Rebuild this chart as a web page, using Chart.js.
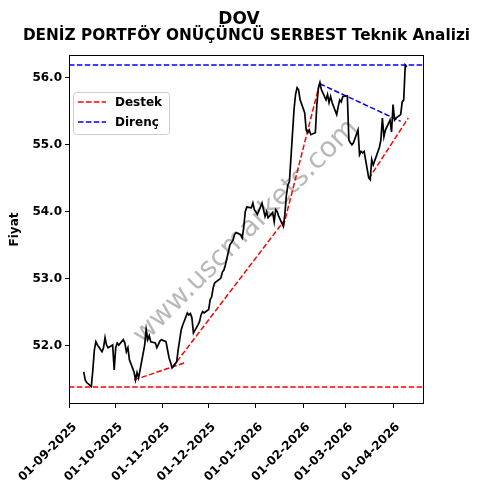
<!DOCTYPE html>
<html>
<head>
<meta charset="utf-8">
<script src="https://cdn.jsdelivr.net/npm/chart.js@4.4.1/dist/chart.umd.min.js"></script>
<style>
  html, body { margin: 0; padding: 0; background: #fff; }
</style>
</head>
<body>
<canvas id="priceChart" width="478" height="489"></canvas>
<script>
// Price data (daily fund price)
const priceDates = [
  '2025-09-10','2025-09-11','2025-09-12','2025-09-15','2025-09-16','2025-09-17','2025-09-18','2025-09-19',
  '2025-09-22','2025-09-23','2025-09-24','2025-09-25','2025-09-26','2025-09-29','2025-09-30',
  '2025-10-01','2025-10-02','2025-10-03','2025-10-06','2025-10-07','2025-10-08','2025-10-09','2025-10-10',
  '2025-10-13','2025-10-14','2025-10-15','2025-10-16','2025-10-17','2025-10-20','2025-10-21','2025-10-22',
  '2025-10-23','2025-10-24','2025-10-27','2025-10-28','2025-10-30','2025-10-31',
  '2025-11-03','2025-11-04','2025-11-05','2025-11-06','2025-11-07','2025-11-10','2025-11-11','2025-11-12',
  '2025-11-13','2025-11-14','2025-11-17','2025-11-18','2025-11-19','2025-11-20','2025-11-21','2025-11-24',
  '2025-11-25','2025-11-26','2025-11-27','2025-11-28',
  '2025-12-01','2025-12-02','2025-12-03','2025-12-04','2025-12-05','2025-12-08','2025-12-09','2025-12-10',
  '2025-12-11','2025-12-12','2025-12-15','2025-12-16','2025-12-17','2025-12-18','2025-12-19','2025-12-22',
  '2025-12-23','2025-12-24','2025-12-25','2025-12-26','2025-12-29','2025-12-30','2025-12-31',
  '2026-01-02','2026-01-05','2026-01-06','2026-01-07','2026-01-08','2026-01-09','2026-01-12','2026-01-13',
  '2026-01-14','2026-01-15','2026-01-16','2026-01-19','2026-01-20','2026-01-21','2026-01-22','2026-01-23',
  '2026-01-26','2026-01-27','2026-01-28','2026-01-29','2026-01-30',
  '2026-02-02','2026-02-03','2026-02-04','2026-02-05','2026-02-06','2026-02-09','2026-02-10','2026-02-11',
  '2026-02-12','2026-02-13','2026-02-16','2026-02-17','2026-02-18','2026-02-19','2026-02-20','2026-02-23',
  '2026-02-24','2026-02-25','2026-02-26','2026-02-27',
  '2026-03-02','2026-03-03','2026-03-04','2026-03-05','2026-03-06','2026-03-09','2026-03-10','2026-03-11',
  '2026-03-12','2026-03-13','2026-03-16','2026-03-17','2026-03-18','2026-03-19','2026-03-23','2026-03-24',
  '2026-03-25','2026-03-26','2026-03-27','2026-03-30','2026-03-31',
  '2026-04-01','2026-04-02','2026-04-03','2026-04-06','2026-04-07','2026-04-08','2026-04-09','2026-04-10'
];
const priceValues = [
  51.61, 51.49, 51.45, 51.39, 51.64, 51.94, 52.06, 52.01,
  51.91, 51.97, 52.12, 52.01, 51.97, 52.01, 51.64,
  51.97, 52.04, 52.01, 52.09, 52.04, 51.91, 51.97, 51.79,
  51.61, 51.49, 51.60, 51.52, 51.64, 52.01, 52.24, 52.09,
  52.15, 52.06, 52.04, 51.97, 52.07, 52.09,
  52.06, 51.94, 51.82, 51.75, 51.67, 51.76, 51.94, 52.09,
  52.24, 52.31, 52.49, 52.46, 52.48, 52.42, 52.19, 52.31,
  52.36, 52.46, 52.51, 52.49,
  52.54, 52.69, 52.73, 52.87, 52.94, 52.99, 53.01, 53.10,
  53.13, 53.21, 53.51, 53.54, 53.58, 53.66, 53.69, 53.66,
  53.61, 53.76, 54.00, 54.07, 54.06, 54.13, 54.03,
  53.96, 54.13, 54.03, 53.93, 54.00, 53.91, 53.99, 53.85,
  54.03, 54.00, 53.93, 53.78, 53.96, 54.25, 54.40, 54.45,
  55.52, 55.75, 55.85, 55.82, 55.67,
  55.48, 55.22, 55.18, 55.22, 55.15, 55.18, 55.60, 55.85,
  55.93, 55.82, 55.67, 55.75, 55.63, 55.72, 55.63, 55.45,
  55.57, 55.67, 55.64, 55.72,
  55.73, 55.07, 55.03, 55.00, 55.03, 55.22, 54.85, 54.90,
  54.88, 54.90, 54.51, 54.48, 54.78, 54.70, 54.96, 55.07,
  55.40, 55.12, 55.22, 55.37, 55.19,
  55.60, 55.37, 55.40, 55.45, 55.64, 55.67, 56.19, 56.16
];

// Trend lines: [start date, start value, end date, end value]
const destekLines = [
  ['2025-10-13', 51.49, '2025-11-16', 51.75],
  ['2025-11-07', 51.67, '2026-01-19', 53.85],
  ['2026-01-19', 53.78, '2026-02-12', 55.93],
  ['2026-03-16', 54.49, '2026-04-11', 55.40]
];
const direncLines = [
  ['2026-02-12', 55.91, '2026-04-06', 55.35]
];
const destekLevel = 51.385;
const direncLevel = 56.19;

// Axis ticks
const xTickDates = ['2025-09-01','2025-10-01','2025-11-01','2025-12-01','2026-01-01','2026-02-01','2026-03-01','2026-04-01'];
const yTickValues = [52, 53, 54, 55, 56];
const xStart = '2025-08-31';
const xEnd = '2026-04-21';

const subtitleText = 'DENİZ PORTFÖY ONÜÇÜNCÜ SERBEST Teknik Analizi';

const BASE = Date.UTC(2025, 8, 1);
function dayIndex(s) {
  const [y, m, d] = s.split('-').map(Number);
  return (Date.UTC(y, m - 1, d) - BASE) / 86400000;
}
function tickLabel(s) {
  const [y, m, d] = s.split('-');
  return `${d}-${m}-${y}`;
}

const FONT = '"DejaVu Sans", sans-serif';
const xMin = dayIndex(xStart) + 0.35;
const xMax = dayIndex(xEnd) + 0.3;

const lineStyle = (color) => ({
  borderColor: color,
  borderWidth: 1.5,
  borderDash: [5.5, 2.4],
  pointRadius: 0,
  fill: false,
  tension: 0
});

const datasets = [];
datasets.push({
  label: 'Fiyat',
  data: priceDates.map((d, i) => ({ x: dayIndex(d), y: priceValues[i] })),
  borderColor: '#000',
  borderWidth: 1.7,
  pointRadius: 0,
  fill: false,
  tension: 0
});
destekLines.forEach(l => datasets.push({
  label: 'Destek',
  data: [{ x: dayIndex(l[0]), y: l[1] }, { x: dayIndex(l[2]), y: l[3] }],
  ...lineStyle('#ff0000')
}));
direncLines.forEach(l => datasets.push({
  label: 'Direnç',
  data: [{ x: dayIndex(l[0]), y: l[1] }, { x: dayIndex(l[2]), y: l[3] }],
  ...lineStyle('#0000ff')
}));
datasets.push({
  label: 'Destek',
  data: [{ x: xMin, y: destekLevel }, { x: xMax, y: destekLevel }],
  ...lineStyle('#ff0000')
});
datasets.push({
  label: 'Direnç',
  data: [{ x: xMin, y: direncLevel }, { x: xMax, y: direncLevel }],
  ...lineStyle('#0000ff')
});

// Watermark behind the lines
const watermarkPlugin = {
  id: 'watermark',
  beforeDatasetsDraw(chart) {
    const { ctx, chartArea } = chart;
    ctx.save();
    ctx.translate(chartArea.left + 177, chartArea.top + 177);
    ctx.rotate(-Math.PI / 4);
    ctx.font = `28px ${FONT}`;
    ctx.fillStyle = 'rgba(128,128,128,0.55)';
    ctx.textAlign = 'center';
    ctx.textBaseline = 'middle';
    ctx.fillText('www.uscmarkets.com', 0, 0);
    ctx.restore();
  }
};

// Box around the plot area, the axes title and the legend in the upper left
const framePlugin = {
  id: 'frame',
  afterDatasetsDraw(chart) {
    const { ctx, chartArea } = chart;
    ctx.save();
    ctx.strokeStyle = '#000';
    ctx.lineWidth = 1;
    ctx.strokeRect(Math.round(chartArea.left) + 0.5, Math.round(chartArea.top) + 0.5,
      Math.round(chartArea.width) - 1, Math.round(chartArea.height) - 1);

    // subtitle, centred over the plot area
    ctx.fillStyle = '#000';
    ctx.font = `bold 15.3px ${FONT}`;
    ctx.textAlign = 'center';
    ctx.textBaseline = 'middle';
    ctx.fillText(subtitleText, (chartArea.left + chartArea.right) / 2, chartArea.top - 19);

    // legend
    const lx = chartArea.left + 4, ly = chartArea.top + 37, lw = 96, lh = 42;
    ctx.fillStyle = 'rgba(255,255,255,0.8)';
    ctx.strokeStyle = '#cccccc';
    ctx.beginPath();
    ctx.roundRect(lx + 0.5, ly + 0.5, lw, lh, 3);
    ctx.fill();
    ctx.stroke();
    const items = [['Destek', '#ff0000'], ['Direnç', '#0000ff']];
    items.forEach((it, i) => {
      const y = ly + 10 + i * 20;
      ctx.setLineDash([5.5, 2.4]);
      ctx.strokeStyle = it[1];
      ctx.lineWidth = 1.5;
      ctx.beginPath();
      ctx.moveTo(lx + 5, y);
      ctx.lineTo(lx + 33, y);
      ctx.stroke();
      ctx.setLineDash([]);
      ctx.fillStyle = '#000';
      ctx.font = `bold 12px ${FONT}`;
      ctx.textAlign = 'left';
      ctx.textBaseline = 'middle';
      ctx.fillText(it[0], lx + 42, y + 1);
    });
    ctx.restore();
  }
};

new Chart(document.getElementById('priceChart'), {
  type: 'line',
  data: { datasets },
  options: {
    responsive: false,
    animation: false,
    devicePixelRatio: 1,
    layout: { padding: { left: 0, right: 0, top: 0, bottom: 0 } },
    plugins: {
      legend: { display: false },
      tooltip: { enabled: false },
      title: {
        display: true,
        text: 'DOV',
        color: '#000',
        font: { family: FONT, size: 17, weight: 'bold', lineHeight: 1 },
        padding: { top: 11, bottom: 27 }
      }
    },
    scales: {
      x: {
        type: 'linear',
        min: xMin,
        max: xMax,
        afterBuildTicks: (scale) => {
          scale.ticks = xTickDates.map(d => ({ value: dayIndex(d) }));
        },
        afterFit: (scale) => { scale.height = 85; },
        ticks: {
          autoSkip: false,
          maxRotation: 45,
          minRotation: 45,
          color: '#000',
          padding: 12,
          labelOffset: 5,
          font: { family: FONT, size: 12, weight: 'bold' },
          callback: (v) => {
            const d = xTickDates.find(t => dayIndex(t) === v);
            return d ? tickLabel(d) : '';
          }
        },
        grid: { drawOnChartArea: false, drawTicks: true, tickLength: 4, color: '#000' },
        border: { display: false }
      },
      y: {
        min: 51.13,
        max: 56.34,
        afterBuildTicks: (scale) => {
          scale.ticks = yTickValues.map(v => ({ value: v }));
        },
        afterFit: (scale) => { scale.width = 69; },
        ticks: {
          color: '#000',
          padding: 3,
          font: { family: FONT, size: 12, weight: 'bold' },
          callback: (v) => Number(v).toFixed(1)
        },
        grid: { drawOnChartArea: false, drawTicks: true, tickLength: 4, color: '#000' },
        border: { display: false },
        title: {
          display: true,
          text: 'Fiyat',
          color: '#000',
          font: { family: FONT, size: 12, weight: 'bold' },
          padding: { top: 8, bottom: 0 }
        }
      },
      // empty right axis keeps the margin to the right of the plot
      yRight: {
        position: 'right',
        display: true,
        ticks: { display: false },
        grid: { display: false },
        border: { display: false },
        afterFit: (scale) => { scale.width = 54; }
      }
    }
  },
  plugins: [watermarkPlugin, framePlugin]
});
</script>
</body>
</html>
